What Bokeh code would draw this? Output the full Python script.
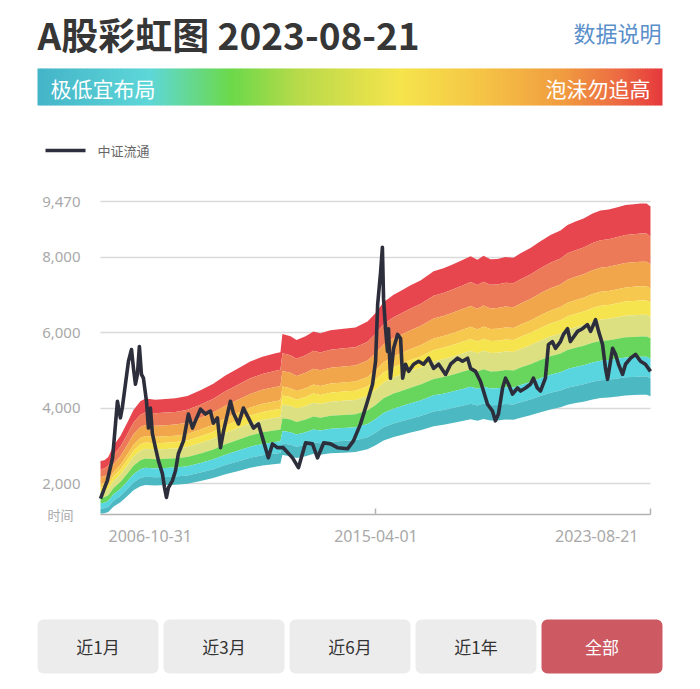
import numpy as np
import pandas as pd
from bokeh.plotting import figure
from bokeh.layouts import column
from bokeh.models import (Range1d, FixedTicker, NumeralTickFormatter, DatetimeTickFormatter,
                          NoOverlap, ColumnDataSource, Grid)
from bokeh.core.properties import value
from bokeh.embed import file_html
from bokeh.resources import INLINE

FONT = "Noto Sans CJK SC"
NUM_FONT = "Noto Sans"

# ---------------- data ----------------
TITLE = "A股彩虹图  2023-08-21"
LINE_NAME = "中证流通"

line_dates = [
    "2006-10-31", "2007-01-15", "2007-03-15", "2007-05-08", "2007-06-10", "2007-07-01", "2007-08-05",
    "2007-09-08", "2007-10-12", "2007-11-03", "2007-11-25", "2007-12-17", "2008-01-08", "2008-01-31",
    "2008-02-22", "2008-03-27", "2008-04-18", "2008-05-10", "2008-06-01", "2008-07-05", "2008-08-08",
    "2008-09-21", "2008-10-14", "2008-11-05", "2008-11-27", "2009-01-11", "2009-02-14", "2009-03-18",
    "2009-05-14", "2009-07-08", "2009-08-22", "2009-09-24", "2009-11-20", "2010-01-14", "2010-03-10",
    "2010-04-12", "2010-05-28", "2010-07-01", "2010-08-04", "2010-10-20", "2010-11-22", "2011-01-18",
    "2011-03-14", "2011-05-08", "2011-07-04", "2011-08-29", "2011-10-23", "2011-12-17", "2012-02-01",
    "2012-03-27", "2012-06-01", "2012-09-12", "2012-11-17", "2013-02-05", "2013-04-23", "2013-06-18",
    "2013-08-26", "2013-11-10", "2014-01-27", "2014-05-19", "2014-07-24", "2014-10-11", "2014-12-28",
    "2015-02-22", "2015-03-28", "2015-04-20", "2015-05-23", "2015-06-12", "2015-06-25", "2015-07-17",
    "2015-08-08", "2015-08-19", "2015-09-10", "2015-10-15", "2015-11-28", "2016-01-01", "2016-01-24",
    "2016-02-25", "2016-03-30", "2016-05-26", "2016-07-20", "2016-09-13", "2016-11-09", "2017-01-04",
    "2017-03-01", "2017-05-17", "2017-07-12", "2017-09-28", "2017-11-22", "2018-01-18", "2018-02-20",
    "2018-04-16", "2018-06-10", "2018-07-14", "2018-08-28", "2018-10-22", "2018-11-24", "2018-12-28",
    "2019-02-12", "2019-03-17", "2019-04-20", "2019-06-03", "2019-07-29", "2019-09-01", "2019-10-26",
    "2019-12-20", "2020-01-22", "2020-03-06", "2020-04-10", "2020-06-04", "2020-07-08", "2020-08-21",
    "2020-09-24", "2020-11-19", "2020-12-23", "2021-02-06", "2021-03-10", "2021-05-29", "2021-07-23",
    "2021-09-16", "2021-10-22", "2021-12-16", "2022-01-19", "2022-03-04", "2022-04-06", "2022-04-29",
    "2022-06-24", "2022-07-27", "2022-08-29", "2022-10-13", "2022-11-15", "2023-01-11", "2023-03-07",
    "2023-05-01", "2023-06-25", "2023-08-21",
]
line_values = [
    1600, 2080, 2680, 4180, 3740, 4000, 4630,
    5240, 5550, 5050, 4630, 4890, 5630, 4890,
    4790, 4180, 3470, 4000, 3320, 2950, 2600,
    2260, 1900, 1630, 1890, 2080, 2340, 2790,
    3130, 3840, 3470, 3660, 3970, 3840, 3920,
    3600, 3740, 2950, 3390, 4180, 3870, 3580,
    4000, 3740, 3470, 3580, 3130, 2680, 3050,
    2950, 2950, 2680, 2420, 3080, 3050, 2680,
    3080, 3050, 2950, 2920, 3130, 3580, 4180,
    4630, 5240, 6740, 7600, 8260, 6890, 6100,
    5500, 6100, 4790, 5580, 5950, 5840, 4790,
    5160, 4970, 5160, 5240, 5160, 5320, 5050,
    5160, 4890, 5160, 5320, 5240, 5320, 5050,
    4970, 4710, 4450, 4100, 3920, 3660, 3840,
    4530, 4790, 4630, 4370, 4530, 4450, 4530,
    4630, 4790, 4530, 4450, 4790, 5680, 5760,
    5580, 5760, 5950, 6100, 5760, 6030, 6100,
    6210, 6030, 6340, 6030, 5680, 5050, 4760,
    5580, 5420, 5160, 4890, 5160, 5320, 5420,
    5240, 5160, 4970,
]

# upper edge of the rainbow (top of the red band)
band_dates = [
    "2006-10-31", "2006-12-13", "2007-01-26", "2007-03-24", "2007-06-10", "2007-08-28", "2007-11-03",
    "2008-01-19", "2008-03-16", "2008-07-05", "2008-10-25", "2009-02-14", "2009-06-27", "2009-11-20",
    "2010-04-12", "2010-08-25", "2011-01-07", "2011-05-29", "2011-10-12", "2012-03-06", "2012-04-30",
    "2012-05-22", "2012-08-21", "2012-10-27", "2013-02-05", "2013-05-04", "2013-07-20", "2013-11-10",
    "2014-04-05", "2014-08-15", "2014-12-28", "2015-03-28", "2015-06-25", "2015-10-15", "2016-01-01",
    "2016-04-22", "2016-08-10", "2017-01-04", "2017-04-23", "2017-08-03", "2017-11-22", "2018-02-20",
    "2018-05-08", "2018-07-14", "2018-09-30", "2018-12-17", "2019-03-17", "2019-06-14", "2019-09-01",
    "2019-12-20", "2020-04-10", "2020-07-31", "2020-11-19", "2021-02-06", "2021-05-06", "2021-08-04",
    "2021-11-13", "2022-02-09", "2022-05-11", "2022-08-18", "2022-11-15", "2023-02-14", "2023-05-01",
    "2023-07-08", "2023-08-21",
]
band_top = [
    2600, 2620, 2700, 3000, 3260, 3620, 3950,
    4180, 4250, 4220, 4240, 4260, 4320, 4470,
    4640, 4860, 5040, 5230, 5360, 5450, 5480,
    5960, 5900, 5800, 5900, 6030, 5980, 6060,
    6100, 6130, 6290, 6520, 6800, 7000, 7100,
    7250, 7380, 7620, 7700, 7800, 7920, 8020,
    7930, 8030, 7940, 7950, 8000, 7980, 8100,
    8240, 8420, 8580, 8700, 8850, 8940, 9020,
    9150, 9230, 9260, 9320, 9380, 9400, 9420,
    9420, 9340,
]
# band edges as a share of the upper edge, top to bottom
band_levels = [1.0, 0.915, 0.836, 0.767, 0.727, 0.687, 0.626, 0.569, 0.513, 0.462]
band_colors = ["#e8464f", "#ec7a59", "#f2a64b", "#f6c84e", "#f6e44f",
               "#dde081", "#68d55c", "#59d5df", "#4cb8c2"]

y_ticks = [2000, 4000, 6000, 8000, 9470]
Y_MIN, Y_MAX = 1180, 9470
x_tick_labels = ["2006-10-31", "2015-04-01", "2023-08-21"]
X_NAME = "时间"

buttons = ["近1月", "近3月", "近6月", "近1年", "全部"]
active_button = "全部"

scale_left = "极低宜布局"
scale_right = "泡沫勿追高"
grad_stops = [0.0, 0.18, 0.31, 0.42, 0.58, 0.71, 0.84, 0.93, 1.0]
grad_colors = ["#44b4c8", "#5ed7d8", "#6cd94a", "#b9da4a", "#f5e44c",
               "#f5c445", "#f09c40", "#ec6b42", "#e6383c"]

W = 700
AXIS_GRAY = "#a9a9a9"


def blank(h):
    f = figure(width=W, height=h, x_range=Range1d(0, W), y_range=Range1d(h, 0),
               output_backend="svg", toolbar_location=None, min_border=0,
               x_axis_location=None, y_axis_location=None)
    f.grid.visible = False
    f.outline_line_color = None
    return f


# ---------------- header ----------------
hdr = blank(190)
hdr.text(x=[37], y=[33], text=[TITLE], text_font=value(FONT), text_font_size="37px",
         text_font_style="bold", text_color="#363636", text_baseline="middle")
hdr.text(x=[661], y=[31], text=["数据说明"], text_font=value(FONT), text_font_size="22px",
         text_color="#5a8fca", text_align="right", text_baseline="middle")


def hex2rgb(h):
    return np.array([int(h[i:i + 2], 16) for i in (1, 3, 5)], dtype=float)


bar_l, bar_r, bar_t, bar_b = 37, 662, 68, 105
n = 250
edges = np.linspace(bar_l, bar_r, n + 1)
cols = []
rgbs = [hex2rgb(c) for c in grad_colors]
for i in range(n):
    f = (i + 0.5) / n
    k = int(np.searchsorted(grad_stops, f)) - 1
    k = min(max(k, 0), len(grad_stops) - 2)
    t = (f - grad_stops[k]) / (grad_stops[k + 1] - grad_stops[k])
    c = rgbs[k] * (1 - t) + rgbs[k + 1] * t
    cols.append("#%02x%02x%02x" % tuple(int(round(v)) for v in c))
right_edges = np.minimum(edges[1:] + 0.6, bar_r)
hdr.quad(left=edges[:-1], right=right_edges, top=bar_t, bottom=bar_b, fill_color=cols, line_color=None)
hdr.text(x=[50], y=[87], text=[scale_left], text_font=value(FONT), text_font_size="21px",
         text_color="white", text_baseline="middle")
hdr.text(x=[650], y=[87], text=[scale_right], text_font=value(FONT), text_font_size="21px",
         text_color="white", text_baseline="middle", text_align="right")
hdr.line(x=[45, 85], y=[150, 150], line_color="#2e2f3e", line_width=3.5)
hdr.text(x=[97], y=[150], text=[LINE_NAME], text_font=value(FONT), text_font_size="13px",
         text_color="#666666", text_baseline="middle")

# ---------------- main chart ----------------
ld = pd.to_datetime(line_dates)
bd = pd.to_datetime(band_dates)
x0 = pd.Timestamp(x_tick_labels[0]).value / 1e6
xm = pd.Timestamp(x_tick_labels[1]).value / 1e6
x1 = pd.Timestamp(x_tick_labels[-1]).value / 1e6

H = 370
FL, FR, FT, FB = 100, 650, 11, 324   # plotting area inside this figure, in pixels
xpp = (x1 - x0) / (FR - FL)
ypp = (Y_MAX - Y_MIN) / (FB - FT)
p = figure(width=W, height=H, x_axis_type="datetime",
           x_range=Range1d(x0 - FL * xpp, x1 + (W - FR) * xpp),
           y_range=Range1d(Y_MIN - (H - FB) * ypp, Y_MAX + FT * ypp),
           output_backend="svg", toolbar_location=None, min_border=0)
p.outline_line_color = None
p.xgrid.visible = False

p.ygrid.ticker = FixedTicker(ticks=y_ticks)
p.ygrid.grid_line_color = "#d9d9d9"
p.ygrid.grid_line_width = 1.5
use_grid = "cross_bounds" in Grid.properties()
if use_grid:
    p.ygrid.cross_bounds = (x0, x1)
else:
    p.ygrid.visible = False
    p.segment(x0=[x0] * len(y_ticks), x1=[x1] * len(y_ticks), y0=y_ticks, y1=y_ticks,
              line_color="#d9d9d9", line_width=1.5)

p.yaxis.fixed_location = x0
p.yaxis.ticker = FixedTicker(ticks=y_ticks)
p.yaxis.formatter = NumeralTickFormatter(format="0,0")
p.yaxis.axis_line_color = None
p.yaxis.major_tick_line_color = None
p.yaxis.minor_tick_line_color = None
p.yaxis.major_label_standoff = 14
p.yaxis.major_label_text_color = AXIS_GRAY
p.yaxis.major_label_text_font = NUM_FONT
p.yaxis.major_label_text_font_size = "15px"

top = np.array(band_top, dtype=float)
for i, c in enumerate(band_colors):
    p.varea(x=bd, y1=top * band_levels[i + 1], y2=top * band_levels[i], fill_color=c)

p.line(x=ld, y=line_values, line_color="#2d2e3c", line_width=3.6, line_join="round")

p.xaxis.fixed_location = Y_MIN
p.xaxis.bounds = (x0, x1)
p.xaxis.ticker = FixedTicker(ticks=[xm, x1])
p.xaxis.formatter = DatetimeTickFormatter(days="%Y-%m-%d", months="%Y-%m-%d", years="%Y-%m-%d")
p.xaxis.major_label_policy = NoOverlap(min_distance=400)
p.xaxis.major_label_standoff = 15
p.xaxis.major_label_text_color = AXIS_GRAY
p.xaxis.major_label_text_font = NUM_FONT
p.xaxis.major_label_text_font_size = "16px"
p.xaxis.axis_line_color = "#b3b3b3"
p.xaxis.axis_line_width = 1.5
p.xaxis.major_tick_line_color = "#b3b3b3"
p.xaxis.major_tick_line_width = 1.5
p.xaxis.major_tick_in = 6
p.xaxis.major_tick_out = 0
p.xaxis.minor_tick_line_color = None

p.text(x=[x0], y=[Y_MIN], text=[x_tick_labels[0]], x_offset=8, y_offset=21,
       text_align="left", text_baseline="middle", text_font=value(NUM_FONT),
       text_font_size="16px", text_color=AXIS_GRAY)
p.text(x=[x1], y=[Y_MIN], text=[x_tick_labels[-1]], x_offset=-12, y_offset=21,
       text_align="right", text_baseline="middle", text_font=value(NUM_FONT),
       text_font_size="16px", text_color=AXIS_GRAY)
p.text(x=[x0], y=[Y_MIN], text=[X_NAME], x_offset=-27, y_offset=0,
       text_align="right", text_baseline="middle", text_font=value(FONT),
       text_font_size="13px", text_color=AXIS_GRAY)

# ---------------- footer buttons ----------------
ftr = blank(129)
bl = [37, 163, 289, 415, 541]
bw = 121
fills = ["#cd5963" if b == active_button else "#ececec" for b in buttons]
tcols = ["#ffffff" if b == active_button else "#333333" for b in buttons]
src = ColumnDataSource(dict(l=bl, r=[v + bw for v in bl], cx=[v + bw / 2 for v in bl],
                            name=buttons, fill=fills, tc=tcols))
ftr.quad(left="l", right="r", top=59, bottom=113, fill_color="fill", line_color=None,
         border_radius=6, source=src)
ftr.text(x="cx", y=86, text="name", text_color="tc", text_align="center", text_baseline="middle",
         text_font=value(FONT), text_font_size="17px", source=src)

layout = column(hdr, p, ftr, spacing=0)
open("out.html", "w").write(file_html(layout, INLINE))
